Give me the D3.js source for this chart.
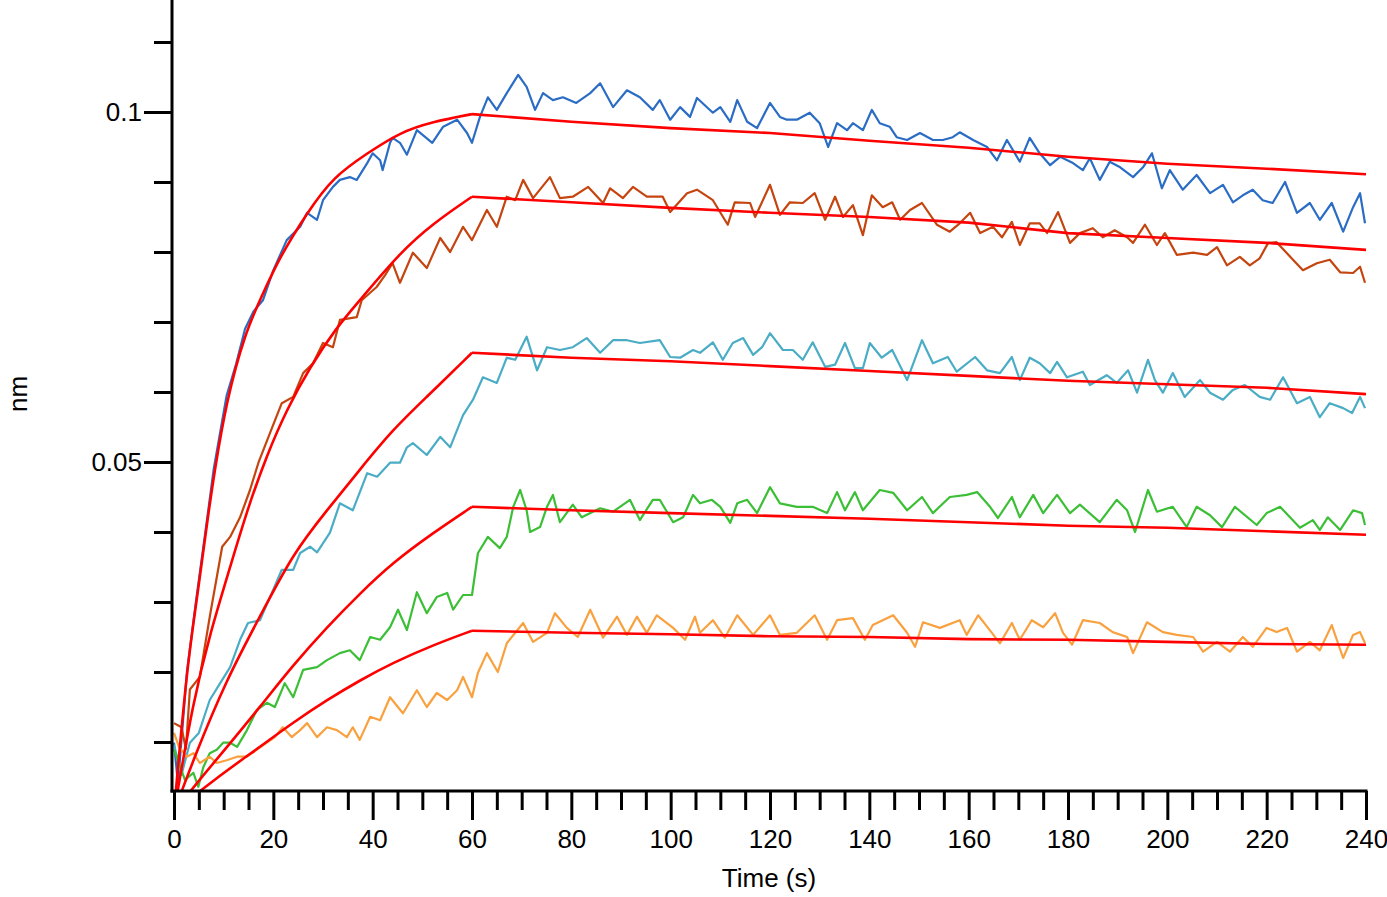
<html>
<head>
<script src="https://d3js.org/d3.v7.min.js"></script>
<style>
body { margin: 0; background: #fff; }
text { font-family: Arial, "Liberation Sans", sans-serif; }
</style>
</head>
<body>
<svg width="1387" height="897"></svg>
<script>
// measured traces, [time s, response nm]
var blueData = [[0,0.0099],[0.8,0.0040],[2.6,0.0200],[4.6,0.0310],[6.6,0.0415],[8,0.0490],[10.6,0.0595],[12.5,0.0640],[14.3,0.0690],[16,0.0715],[17.9,0.0731],[20,0.0774],[22.7,0.0817],[25.4,0.0836],[26.8,0.0856],[28.8,0.0846],[30,0.0874],[32,0.0893],[33.4,0.0903],[35.4,0.0907],[36.8,0.0903],[38.9,0.0927],[40,0.0941],[41.5,0.0931],[42,0.0917],[43.5,0.0956],[44,0.0963],[45.5,0.0956],[46.9,0.0939],[48.9,0.0974],[52,0.0956],[54.2,0.0979],[57,0.0989],[59,0.0970],[60,0.0956],[61.6,0.0993],[63.2,0.1021],[65,0.1003],[67,0.1027],[69.3,0.1053],[71,0.1036],[72.7,0.1003],[74.3,0.1027],[76.3,0.1017],[78.3,0.1021],[81,0.1013],[83.8,0.1027],[85.8,0.1041],[88.4,0.1007],[91.2,0.1031],[93.8,0.1021],[96.4,0.1003],[97.8,0.1017],[99.9,0.0989],[101.9,0.1007],[103.9,0.0993],[105.3,0.1020],[108.5,0.0999],[110,0.1007],[112,0.0986],[113.4,0.1017],[115.4,0.0986],[117.4,0.0977],[120,0.1013],[122,0.0993],[123.4,0.0989],[125.4,0.0989],[128,0.0999],[130,0.0984],[131.7,0.0950],[133.5,0.0984],[135.5,0.0974],[136.7,0.0984],[138.7,0.0974],[140.5,0.1003],[142.1,0.0984],[144.1,0.0979],[145.5,0.0964],[147.6,0.0960],[150.2,0.0970],[152.8,0.0960],[154.8,0.0960],[156.8,0.0964],[158.2,0.0971],[160.9,0.0960],[163.7,0.0950],[165.7,0.0931],[167.7,0.0960],[170.3,0.0929],[172.3,0.0963],[174.3,0.0941],[176.4,0.0924],[178.4,0.0936],[181,0.0927],[183,0.0917],[184.4,0.0934],[186.4,0.0903],[188.4,0.0929],[190.5,0.0921],[193.1,0.0907],[195.1,0.0921],[196.9,0.0941],[198.9,0.0891],[200.5,0.0917],[203.1,0.0889],[205.9,0.0910],[208.6,0.0884],[211.2,0.0896],[213.2,0.0871],[215.2,0.0881],[217.2,0.0889],[219.2,0.0874],[221.2,0.0870],[223.7,0.0900],[226.1,0.0856],[228.7,0.0870],[230.7,0.0846],[233.1,0.0870],[235.4,0.0829],[237.4,0.0864],[238.8,0.0884],[239.8,0.0841]];

var brownData = [[0,0.0127],[1.5,0.0121],[2.4,0.0090],[3.2,0.0175],[5.2,0.0193],[7.2,0.0279],[9.7,0.0379],[11.3,0.0393],[13.3,0.0421],[15.3,0.0460],[17,0.0499],[19.3,0.0541],[21.7,0.0584],[24,0.0593],[26,0.0627],[28,0.0641],[30,0.0670],[32,0.0664],[33.4,0.0703],[36.8,0.0707],[37.8,0.0731],[40.8,0.0750],[42.5,0.0767],[44,0.0784],[45.5,0.0756],[48.1,0.0799],[50.9,0.0777],[53.6,0.0820],[55.6,0.0800],[58.2,0.0836],[60,0.0817],[63,0.0860],[65,0.0836],[67,0.0879],[68.7,0.0874],[70.3,0.0903],[72.3,0.0877],[75.7,0.0907],[77.7,0.0877],[80.3,0.0879],[83.4,0.0893],[86.4,0.0870],[87.8,0.0891],[90.4,0.0877],[92.4,0.0893],[95.2,0.0879],[98.4,0.0879],[99.9,0.0857],[103.3,0.0884],[105.3,0.0889],[108.5,0.0874],[111.5,0.0839],[112.9,0.0871],[116,0.0870],[117,0.0850],[120,0.0896],[122,0.0853],[124,0.0871],[126.6,0.0870],[129,0.0884],[131.1,0.0846],[133.1,0.0879],[134.7,0.0850],[136.7,0.0867],[138.7,0.0824],[140.5,0.0881],[142.7,0.0864],[144.6,0.0871],[146.2,0.0846],[148.2,0.0860],[150.6,0.0870],[153.6,0.0839],[156.2,0.0829],[158.2,0.0841],[160.3,0.0856],[162.3,0.0827],[164.9,0.0836],[166.7,0.0821],[168.7,0.0843],[170.3,0.0810],[172.3,0.0841],[174.3,0.0841],[175.8,0.0827],[178,0.0857],[180.4,0.0813],[182.4,0.0827],[185,0.0834],[187,0.0821],[189.4,0.0831],[191.9,0.0821],[193.1,0.0813],[195.5,0.0839],[197.9,0.0810],[199.5,0.0827],[201.9,0.0796],[205.2,0.0799],[208,0.0796],[210,0.0807],[212,0.0781],[214.6,0.0793],[216.6,0.0781],[218.6,0.0791],[220.3,0.0813],[222,0.0814],[225.3,0.0789],[227.3,0.0774],[230.1,0.0784],[232.7,0.0789],[234.8,0.0771],[237.4,0.0770],[238.8,0.0779],[239.8,0.0756]];

var cyanData = [[0,0.0096],[1.5,0.0053],[3.2,0.0099],[5,0.0113],[7.2,0.0160],[9.3,0.0184],[11.3,0.0207],[13.3,0.0246],[14.9,0.0270],[17.3,0.0274],[19.7,0.0313],[21.7,0.0346],[24,0.0346],[25.4,0.0370],[27.4,0.0379],[28.8,0.0371],[31.4,0.0399],[33.4,0.0441],[36,0.0431],[38.9,0.0484],[40.9,0.0479],[43.5,0.0499],[45.5,0.0499],[46.9,0.0521],[48.1,0.0527],[50.9,0.0510],[53.6,0.0536],[55.6,0.0521],[58.2,0.0567],[60.2,0.0589],[62.2,0.0621],[65,0.0613],[67,0.0649],[68.7,0.0646],[71,0.0679],[73.1,0.0631],[75.1,0.0664],[77.7,0.0660],[80.3,0.0664],[83.1,0.0677],[85.8,0.0656],[88.4,0.0674],[91.2,0.0674],[93.8,0.0670],[97.8,0.0674],[99.9,0.0650],[101.9,0.0649],[104.5,0.0660],[105.9,0.0656],[108.5,0.0671],[110.5,0.0646],[112.5,0.0670],[114.6,0.0677],[116.6,0.0653],[118.4,0.0664],[120,0.0684],[122.6,0.0660],[124.6,0.0660],[126.6,0.0646],[128.6,0.0671],[131.1,0.0636],[133.1,0.0639],[135.1,0.0670],[137.1,0.0634],[138.7,0.0634],[140.1,0.0670],[142.5,0.0649],[144.6,0.0660],[147.6,0.0617],[150.6,0.0674],[152.8,0.0641],[155.8,0.0650],[157.6,0.0629],[161.3,0.0650],[163.7,0.0631],[166.3,0.0627],[168.7,0.0650],[170.3,0.0617],[172.3,0.0649],[174.3,0.0641],[176.4,0.0627],[177.8,0.0643],[179.8,0.0621],[183,0.0629],[184.4,0.0610],[187.8,0.0624],[189.8,0.0613],[192.1,0.0631],[193.9,0.0599],[196.1,0.0646],[197.5,0.0617],[199.1,0.0599],[201.1,0.0627],[203.5,0.0593],[206.6,0.0617],[208.6,0.0599],[211.2,0.0589],[213.2,0.0603],[215.6,0.0610],[218.6,0.0593],[220.7,0.0589],[223.3,0.0621],[226.1,0.0584],[228.7,0.0593],[230.7,0.0564],[232.7,0.0584],[235.4,0.0577],[237.2,0.0570],[238.8,0.0593],[239.8,0.0577]];

var greenData = [[0,0.0089],[2.2,0.0046],[3.9,0.0056],[4.9,0.0036],[5.9,0.0064],[7.2,0.0084],[8.6,0.0089],[9.9,0.0099],[11.3,0.0099],[12.7,0.0093],[14.7,0.0117],[16.7,0.0146],[18.7,0.0156],[20.3,0.0150],[22.3,0.0184],[24,0.0164],[26,0.0203],[28.8,0.0207],[30.8,0.0217],[33.4,0.0227],[35.4,0.0231],[37.4,0.0217],[39.5,0.0250],[41.5,0.0246],[43.5,0.0264],[45.1,0.0289],[46.9,0.0260],[48.9,0.0314],[50.9,0.0284],[52.9,0.0307],[55,0.0313],[56.2,0.0289],[58.2,0.0310],[60,0.0310],[61.2,0.0370],[63.2,0.0393],[65.6,0.0377],[67,0.0393],[68.3,0.0436],[69.7,0.0460],[71,0.0431],[71.7,0.0400],[73.7,0.0407],[75.1,0.0436],[76.3,0.0453],[77.7,0.0414],[80.3,0.0439],[82.1,0.0421],[85.8,0.0434],[88.4,0.0429],[91.8,0.0446],[93.8,0.0417],[96.4,0.0446],[97.8,0.0446],[100.5,0.0414],[102.5,0.0421],[104.5,0.0453],[105.9,0.0441],[108.3,0.0446],[110,0.0436],[112,0.0413],[113.4,0.0441],[115.4,0.0446],[117.4,0.0427],[120,0.0464],[122,0.0441],[125.4,0.0436],[128.6,0.0436],[131.5,0.0427],[133.5,0.0457],[135.1,0.0431],[137.1,0.0457],[138.7,0.0431],[142.1,0.0460],[144.8,0.0456],[147.6,0.0431],[150.6,0.0450],[152.8,0.0427],[156.2,0.0450],[159.6,0.0453],[161.7,0.0457],[164.3,0.0436],[165.9,0.0420],[168.7,0.0450],[170.3,0.0421],[173,0.0453],[175,0.0427],[177.8,0.0453],[180.4,0.0427],[182.4,0.0439],[186.4,0.0414],[189.8,0.0446],[191.9,0.0431],[193.5,0.0400],[196.1,0.0460],[197.9,0.0429],[201.1,0.0436],[203.9,0.0407],[205.9,0.0436],[208.6,0.0424],[211,0.0407],[213.6,0.0436],[218,0.0410],[220,0.0427],[222.7,0.0436],[226.7,0.0406],[229.3,0.0417],[230.7,0.0403],[232.3,0.0421],[234.8,0.0403],[237.4,0.0431],[239.2,0.0427],[239.8,0.0410]];

var orangeData = [[0,0.0113],[1,0.0093],[2.6,0.0079],[3.9,0.0084],[5.2,0.0070],[7.2,0.0079],[8.6,0.0070],[10.6,0.0074],[12.7,0.0079],[14.7,0.0079],[16.7,0.0089],[18.7,0.0099],[20.3,0.0107],[21.9,0.0121],[23.7,0.0107],[25.4,0.0117],[26.8,0.0127],[28.8,0.0107],[30.8,0.0121],[32.8,0.0117],[34.8,0.0107],[36,0.0121],[37.4,0.0103],[39.5,0.0136],[41.5,0.0131],[43.5,0.0164],[46.1,0.0141],[48.9,0.0174],[50.9,0.0150],[52.9,0.0170],[55,0.0160],[57,0.0174],[58.2,0.0193],[60,0.0164],[61.2,0.0199],[63,0.0227],[65.2,0.0200],[67,0.0241],[68.7,0.0256],[70.3,0.0270],[72.3,0.0243],[75.1,0.0256],[76.7,0.0284],[79.1,0.0263],[81.3,0.0250],[83.8,0.0289],[86.4,0.0249],[89.2,0.0279],[91.2,0.0253],[93.2,0.0279],[95.2,0.0256],[97.2,0.0281],[100.5,0.0263],[102.9,0.0246],[104.9,0.0279],[105.9,0.0256],[108.5,0.0274],[110.9,0.0249],[113.4,0.0281],[116.6,0.0253],[120,0.0281],[122,0.0253],[125.4,0.0256],[129,0.0281],[131.5,0.0246],[133.5,0.0274],[136.7,0.0277],[139.1,0.0246],[140.7,0.0267],[144.8,0.0281],[147.6,0.0256],[149.2,0.0236],[150.8,0.0271],[154.2,0.0263],[158.2,0.0274],[159.6,0.0253],[161.9,0.0281],[163.9,0.0263],[166.3,0.0241],[168.7,0.0270],[170.3,0.0246],[172.7,0.0274],[175,0.0264],[177.4,0.0284],[179,0.0256],[180.8,0.0239],[183,0.0274],[186.4,0.0270],[189,0.0257],[191.9,0.0250],[193.1,0.0227],[195.9,0.0271],[199.1,0.0257],[201.9,0.0253],[205.2,0.0250],[207.2,0.0229],[210,0.0243],[212.6,0.0229],[215.2,0.0250],[217.2,0.0236],[220,0.0263],[222,0.0257],[224.1,0.0263],[226.1,0.0229],[228.7,0.0243],[230.7,0.0231],[233.1,0.0267],[235.4,0.0220],[237.4,0.0253],[238.8,0.0257],[239.8,0.0241]];

// fitted curves
var blueFit = [[0,0],[2.6,0.0207],[4.6,0.0303],[6.6,0.0410],[8,0.0480],[10.6,0.0589],[14.3,0.0684],[17.6,0.0736],[21.3,0.0793],[26.8,0.0856],[32,0.0907],[38.9,0.0941],[45.5,0.0971],[52,0.0986],[60,0.0997],[80,0.0986],[100,0.0977],[120,0.0970],[140,0.0959],[160,0.0949],[180,0.0936],[200,0.0926],[220,0.0919],[240,0.0911]];
var brownFit = [[0,0],[3.9,0.0160],[7.3,0.0256],[11.3,0.0350],[14.9,0.0435],[18.7,0.0510],[22.7,0.0575],[27.4,0.0636],[32.8,0.0693],[37.4,0.0731],[45.5,0.0799],[52,0.0840],[60,0.0879],[80,0.0871],[100,0.0863],[120,0.0856],[140,0.0850],[160,0.0842],[180,0.0827],[200,0.0820],[220,0.0813],[240,0.0803]];
var cyanFit = [[0,0],[3.9,0.0075],[10.6,0.0190],[17.3,0.0279],[24,0.0370],[30.8,0.0431],[37.4,0.0489],[44,0.0546],[50.9,0.0593],[60,0.0656],[80,0.0649],[100,0.0644],[120,0.0637],[140,0.0630],[160,0.0623],[180,0.0616],[200,0.0611],[220,0.0606],[240,0.0597]];
var greenFit = [[0,0],[5,0.0045],[10.7,0.0093],[17.3,0.0150],[24,0.0210],[30.8,0.0264],[37.4,0.0312],[44,0.0356],[52,0.0398],[60,0.0436],[80,0.0431],[100,0.0427],[120,0.0423],[140,0.0419],[160,0.0414],[180,0.0409],[200,0.0406],[220,0.0401],[240,0.0396]];
var orangeFit = [[0,0],[8,0.0046],[17.3,0.0093],[24,0.0128],[30.8,0.0160],[37.4,0.0188],[44,0.0213],[52,0.0238],[60,0.0259],[80,0.0256],[100,0.0254],[120,0.0251],[140,0.0250],[160,0.0247],[180,0.0246],[200,0.0243],[220,0.0240],[240,0.0239]];

var traces = [blueData, brownData, cyanData, greenData, orangeData];
var traceColors = ["#2b6cc4", "#c4450f", "#4aacc5", "#3cbf36", "#f9a13f"];
var fits = [blueFit, brownFit, cyanFit, greenFit, orangeFit];
var switchTime = 60;

var xMajor = [0,20,40,60,80,100,120,140,160,180,200,220,240];
var xMinor = [5,10,15,25,30,35,45,50,55,65,70,75,85,90,95,105,110,115,125,130,135,145,150,155,165,170,175,185,190,195,205,210,215,225,230,235];
var yMajor = [0.05, 0.1];
var yMajorLabels = ["0.05", "0.1"];
var yMinor = [0.01,0.02,0.03,0.04,0.06,0.07,0.08,0.09,0.11];

var svg = d3.select("svg");
var x = d3.scaleLinear().domain([0, 240]).range([174, 1366]);
var y = d3.scaleLinear().domain([0.003, 0.116]).range([791, 0]);
var axisX = 172;

svg.append("clipPath").attr("id", "plotclip")
  .append("rect").attr("x", axisX).attr("y", 0)
  .attr("width", x(240) - axisX + 1).attr("height", y(0.003));

var line = d3.line().x(function(d) { return x(d[0]); }).y(function(d) { return y(d[1]); });
var smooth = d3.line().curve(d3.curveBasis).x(function(d) { return x(d[0]); }).y(function(d) { return y(d[1]); });
var plot = svg.append("g").attr("clip-path", "url(#plotclip)");

plot.selectAll(".trace").data(traces).enter().append("path")
  .attr("class", "trace")
  .attr("d", line)
  .attr("fill", "none")
  .attr("stroke", function(d, i) { return traceColors[i]; })
  .attr("stroke-width", 2.2)
  .attr("stroke-linejoin", "round");

// association phase as a smooth curve, dissociation as straight segments
plot.selectAll(".fitA").data(fits).enter().append("path")
  .attr("class", "fitA")
  .attr("d", function(d) { return smooth(d.filter(function(p) { return p[0] <= switchTime; })); })
  .attr("fill", "none")
  .attr("stroke", "#ff0000")
  .attr("stroke-width", 2.6);

plot.selectAll(".fitD").data(fits).enter().append("path")
  .attr("class", "fitD")
  .attr("d", function(d) { return line(d.filter(function(p) { return p[0] >= switchTime; })); })
  .attr("fill", "none")
  .attr("stroke", "#ff0000")
  .attr("stroke-width", 2.6);

// x axis
var gx = svg.append("g").attr("transform", "translate(0," + y(0.003) + ")");
gx.call(d3.axisBottom(x).tickValues(xMajor).tickSize(29).tickPadding(10).tickSizeOuter(0));
gx.append("g").call(d3.axisBottom(x).tickValues(xMinor).tickSize(19).tickFormat("").tickSizeOuter(0));

// y axis
var gy = svg.append("g").attr("transform", "translate(" + axisX + ",0)");
gy.call(d3.axisLeft(y).tickValues(yMajor).tickSize(28).tickPadding(2).tickSizeOuter(0)
  .tickFormat(function(d, i) { return yMajorLabels[i]; }));
gy.append("g").call(d3.axisLeft(y).tickValues(yMinor).tickSize(18).tickFormat("").tickSizeOuter(0));

svg.selectAll(".domain").remove();
svg.selectAll(".tick line").attr("stroke", "#000").attr("stroke-width", 3);
svg.selectAll(".tick text").attr("fill", "#000").style("font-size", "26px")
  .style("font-family", "Arial, 'Liberation Sans', sans-serif");

svg.append("line").attr("x1", axisX - 1.5).attr("x2", x(240) + 1.5)
  .attr("y1", y(0.003)).attr("y2", y(0.003)).attr("stroke", "#000").attr("stroke-width", 3);
svg.append("line").attr("x1", axisX).attr("x2", axisX)
  .attr("y1", 0).attr("y2", y(0.003) + 1.5).attr("stroke", "#000").attr("stroke-width", 3);

svg.append("text").attr("x", 769).attr("y", 887).attr("text-anchor", "middle")
  .style("font-size", "26px").text("Time (s)");
svg.append("text").attr("transform", "translate(27,394) rotate(-90)").attr("text-anchor", "middle")
  .style("font-size", "26px").text("nm");
</script>
</body>
</html>
